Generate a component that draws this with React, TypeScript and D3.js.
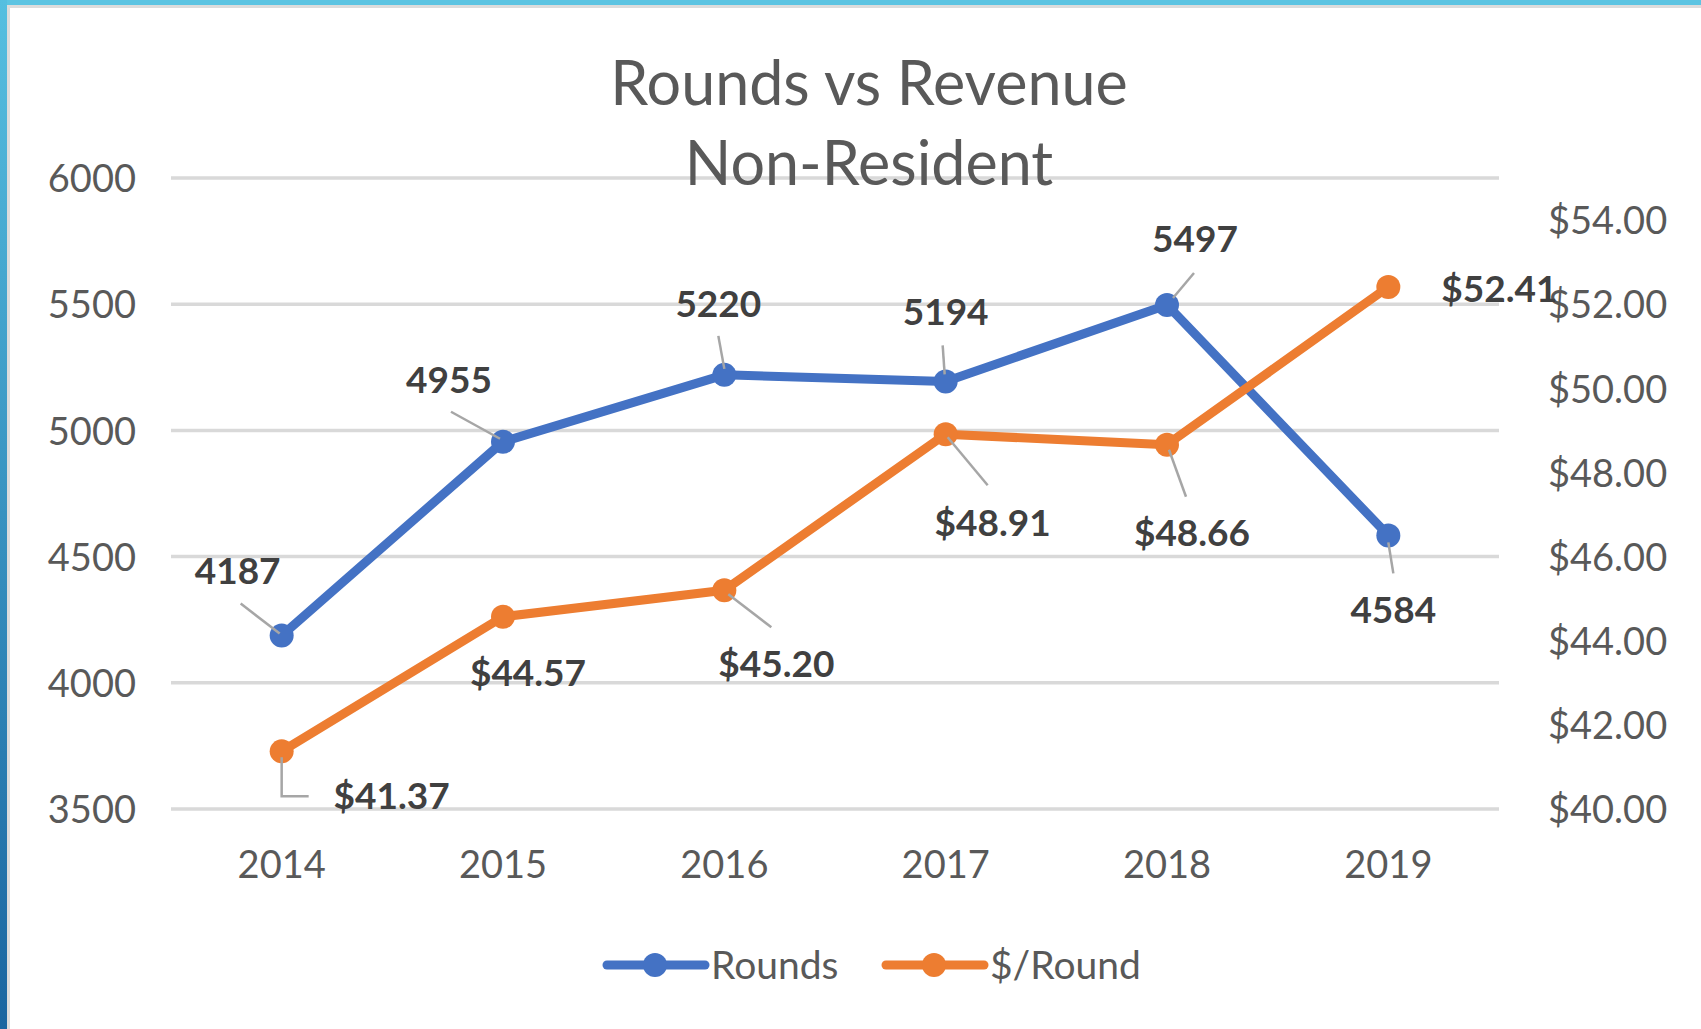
import React, { useEffect, useRef } from 'react';
import * as d3 from 'd3';

const years = ['2014', '2015', '2016', '2017', '2018', '2019'];
const rounds = [4187, 4955, 5220, 5194, 5497, 4584];
const perRound = [41.37, 44.57, 45.2, 48.91, 48.66, 52.41];
const leftTicks = [3500, 4000, 4500, 5000, 5500, 6000];
const rightTicks = [40, 42, 44, 46, 48, 50, 52, 54];

// label placement relative to each point (layout only)
const roundsLabelPos = [[-44, -65], [-54, -62], [-6, -71], [0, -70], [28, -66], [5, 74]];
const roundsLeaders = [
  [[-41, -32], [-2, -2]],
  [[-52, -30], [-3, -3]],
  [[-6, -39], [0, -6]],
  [[-3, -36], [-1, -7]],
  [[27, -32], [6, -7]],
  [[0, 7], [5, 38]]
];
const priceLabelPos = [[110, 44], [25, 56], [52, 73], [47, 88], [25, 88], [111, 2]];
const priceLeaders = [
  [[0, 6], [0, 45], [27, 45]],
  null,
  [[4, 4], [47, 37]],
  [[2, 3], [42, 51]],
  [[2, 5], [19, 52]],
  null
];

const BLUE = '#4472C4';
const ORANGE = '#ED7D31';
const FONT = 'Lato, "Open Sans", sans-serif';

const App = () => {
  const chartRef = useRef(null);

  useEffect(() => {
    const width = 1701;
    const height = 1029;
    const left = 171, right = 1499, top = 178, bottom = 809;

    d3.select(chartRef.current).selectAll('svg').remove();

    const svg = d3.select(chartRef.current)
      .append('svg')
      .attr('width', width)
      .attr('height', height)
      .style('display', 'block');

    const defs = svg.append('defs');
    const grad = defs.append('linearGradient')
      .attr('id', 'edge')
      .attr('x1', 0).attr('y1', 0).attr('x2', 0).attr('y2', 1);
    grad.append('stop').attr('offset', '0%').attr('stop-color', '#56bfe0');
    grad.append('stop').attr('offset', '100%').attr('stop-color', '#1a65a0');

    svg.append('rect').attr('width', width).attr('height', height).attr('fill', '#fff');
    // frame
    svg.append('rect').attr('x', 0).attr('y', 0).attr('width', width).attr('height', 5).attr('fill', '#5cc4e2');
    svg.append('rect').attr('x', 7).attr('y', 5).attr('width', width).attr('height', 3).attr('fill', '#dcdcdc');
    svg.append('rect').attr('x', 7).attr('y', 5).attr('width', 3).attr('height', height).attr('fill', '#dcdcdc');
    svg.append('rect').attr('x', 0).attr('y', 0).attr('width', 7).attr('height', height).attr('fill', 'url(#edge)');

    const x = d3.scaleBand().domain(years).range([left, right]);
    const yL = d3.scaleLinear().domain([3500, 6000]).range([bottom, top]);
    const yR = d3.scaleLinear().domain([40, 55]).range([bottom, top]);
    const cx = d => x(d) + x.bandwidth() / 2;

    // gridlines
    svg.append('g')
      .selectAll('line')
      .data(leftTicks)
      .enter()
      .append('line')
      .attr('x1', left).attr('x2', right)
      .attr('y1', d => yL(d)).attr('y2', d => yL(d))
      .attr('stroke', '#d9d9d9')
      .attr('stroke-width', 3.5);

    // left axis
    const leftAxis = svg.append('g')
      .attr('transform', `translate(${left - 35},0)`)
      .call(d3.axisLeft(yL).tickValues(leftTicks).tickSize(0).tickPadding(0).tickFormat(d3.format('d')));
    leftAxis.select('.domain').remove();

    // right axis
    const rightAxis = svg.append('g')
      .attr('transform', `translate(${right + 49},0)`)
      .call(d3.axisRight(yR).tickValues(rightTicks).tickSize(0).tickPadding(0).tickFormat(d => '$' + d3.format('.2f')(d)));
    rightAxis.select('.domain').remove();

    // x axis
    const bottomAxis = svg.append('g')
      .attr('transform', `translate(0,${bottom + 42})`)
      .call(d3.axisBottom(x).tickSize(0).tickPadding(0));
    bottomAxis.select('.domain').remove();

    svg.selectAll('.tick text')
      .attr('font-family', FONT)
      .attr('font-size', 38)
      .attr('fill', '#595959');
    leftAxis.selectAll('.tick text').attr('dy', '0.36em');
    rightAxis.selectAll('.tick text').attr('dy', '0.36em');
    bottomAxis.selectAll('.tick text').attr('dy', '0.72em');

    // title
    const title = svg.append('text')
      .attr('text-anchor', 'middle')
      .attr('font-family', FONT)
      .attr('font-size', 61)
      .attr('fill', '#595959');
    title.append('tspan').attr('x', 869).attr('y', 105).text('Rounds vs Revenue');
    title.append('tspan').attr('x', 869).attr('y', 185).text('Non-Resident');

    const series = [
      { values: rounds, y: yL, color: BLUE, pos: roundsLabelPos, leaders: roundsLeaders, fmt: d3.format('d') },
      { values: perRound, y: yR, color: ORANGE, pos: priceLabelPos, leaders: priceLeaders, fmt: d => '$' + d3.format('.2f')(d) }
    ];

    series.forEach(s => {
      const line = d3.line()
        .x((_, i) => cx(years[i]))
        .y(d => s.y(d));

      svg.append('path')
        .datum(s.values)
        .attr('d', line)
        .attr('fill', 'none')
        .attr('stroke', s.color)
        .attr('stroke-width', 9)
        .attr('stroke-linejoin', 'round')
        .attr('stroke-linecap', 'round');

      svg.append('g')
        .selectAll('circle')
        .data(s.values)
        .enter()
        .append('circle')
        .attr('cx', (_, i) => cx(years[i]))
        .attr('cy', d => s.y(d))
        .attr('r', 12)
        .attr('fill', s.color);
    });

    series.forEach(s => {
      // leader lines
      s.values.forEach((v, i) => {
        const pts = s.leaders[i];
        if (!pts) return;
        const px = cx(years[i]);
        const py = s.y(v);
        svg.append('path')
          .attr('d', d3.line()(pts.map(p => [px + p[0], py + p[1]])))
          .attr('fill', 'none')
          .attr('stroke', '#a6a6a6')
          .attr('stroke-width', 2.5);
      });

      svg.append('g')
        .selectAll('text')
        .data(s.values)
        .enter()
        .append('text')
        .attr('x', (_, i) => cx(years[i]) + s.pos[i][0])
        .attr('y', (d, i) => s.y(d) + s.pos[i][1])
        .attr('dy', '0.36em')
        .attr('text-anchor', 'middle')
        .attr('font-family', FONT)
        .attr('font-weight', 'bold')
        .attr('font-size', 37)
        .attr('fill', '#404040')
        .text(d => s.fmt(d));
    });

    // legend
    const legend = [
      { name: 'Rounds', color: BLUE, x: 607 },
      { name: '$/Round', color: ORANGE, x: 886 }
    ];
    const lg = svg.append('g').attr('transform', 'translate(0,965)');
    legend.forEach(l => {
      lg.append('line')
        .attr('x1', l.x).attr('x2', l.x + 98)
        .attr('stroke', l.color)
        .attr('stroke-width', 9)
        .attr('stroke-linecap', 'round');
      lg.append('circle').attr('cx', l.x + 48).attr('r', 12).attr('fill', l.color);
      lg.append('text')
        .attr('x', l.x + 104)
        .attr('dy', '0.36em')
        .attr('font-family', FONT)
        .attr('font-size', 39)
        .attr('fill', '#595959')
        .text(l.name);
    });
  }, []);

  return (
    <div ref={chartRef} style={{ position: 'fixed', left: 0, top: 0 }}></div>
  );
};

export default App;
